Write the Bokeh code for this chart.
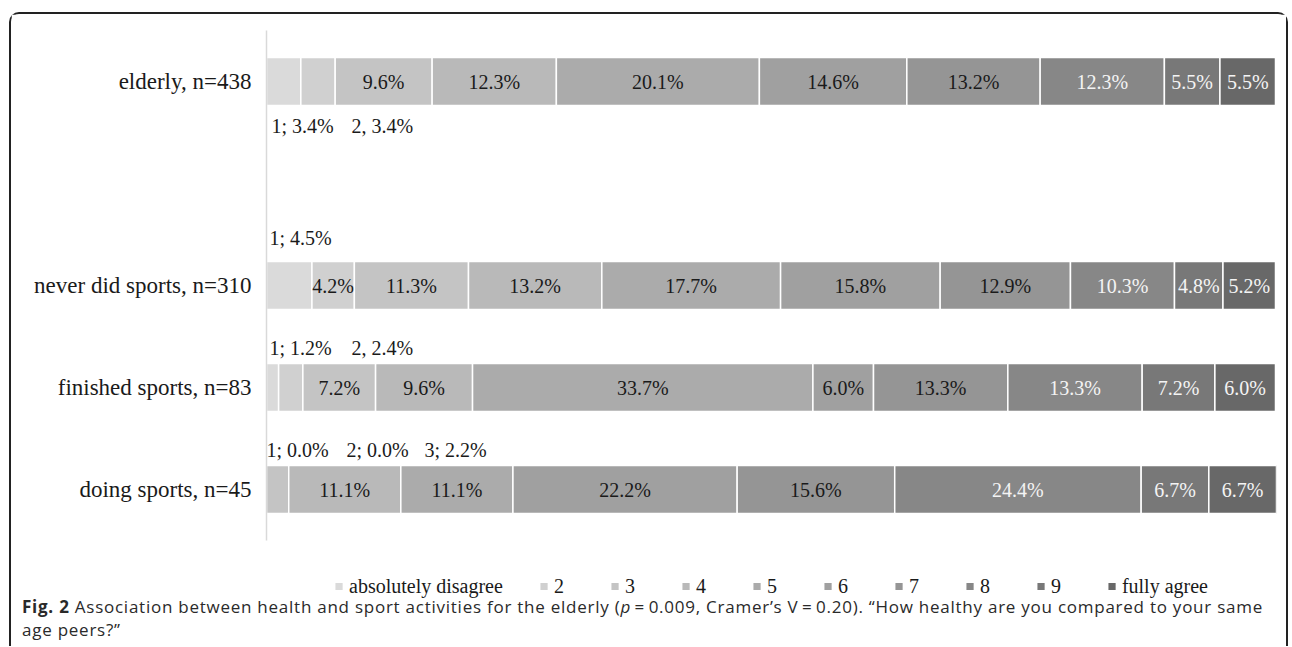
from bokeh.plotting import figure
from bokeh.models import ColumnDataSource, Legend, LegendItem, Div, Range1d, FactorRange
from bokeh.layouts import column
from bokeh.core.properties import value
from bokeh.embed import file_html
from bokeh.resources import INLINE

# ---- data ----
groups = ["elderly, n=438", "never did sports, n=310", "finished sports, n=83", "doing sports, n=45"]
levels = ["absolutely disagree", "2", "3", "4", "5", "6", "7", "8", "9", "fully agree"]
elderly = [3.4, 3.4, 9.6, 12.3, 20.1, 14.6, 13.2, 12.3, 5.5, 5.5]
never_did = [4.5, 4.2, 11.3, 13.2, 17.7, 15.8, 12.9, 10.3, 4.8, 5.2]
finished = [1.2, 2.4, 7.2, 9.6, 33.7, 6.0, 13.3, 13.3, 7.2, 6.0]
doing = [0.0, 0.0, 2.2, 11.1, 11.1, 22.2, 15.6, 24.4, 6.7, 6.7]
# small segments labelled outside the bar (level index)
outside_idx = [[0, 1], [0], [0, 1], [0, 1, 2]]
outside_text = [["1; 3.4%", "2, 3.4%"], ["1; 4.5%"], ["1; 1.2%", "2, 2.4%"],
                ["1; 0.0%", "2; 0.0%", "3; 2.2%"]]
caption_line1 = ("<b>Fig. 2</b> Association between health and sport activities for the elderly "
                 "(<i>p</i>&thinsp;=&thinsp;0.009, Cramer’s V&thinsp;=&thinsp;0.20). "
                 "“How healthy are you compared to your same")
caption_line2 = "age peers?”"

# ---- styling ----
colors = ["#dadada", "#d0d0d0", "#c4c4c4", "#b9b9b9", "#ababab",
          "#a0a0a0", "#959595", "#878787", "#787878", "#686868"]
white_text = [False] * 7 + [True] * 3
outside_xoff = [[5, 85], [3], [3, 85], [0, 80, 158]]
outside_yoff = [44, -48, -40, -40]
SERIF = "Liberation Serif"
W = 1275

series = [elderly, never_did, finished, doing]
blank = " "
factors = [groups[3], groups[2], groups[1], blank, groups[0]]

data = {"cat": groups}
for j, lev in enumerate(levels):
    data[lev] = [s[j] for s in series]
source = ColumnDataSource(data)

p = figure(width=W, height=550, y_range=FactorRange(factors=factors, range_padding=0),
           x_range=Range1d(0, 100), output_backend="svg", toolbar_location=None,
           min_border_left=255, min_border_right=10, min_border_top=16, min_border_bottom=24)

p.hbar_stack(levels, y="cat", height=0.47, color=colors, source=source,
             line_color="white", line_width=1.5)

# inline labels
lx, ly, lt, lc = [], [], [], []
ox, oy, ot, oxo, oyo = [], [], [], [], []
for i, (g, s) in enumerate(zip(groups, series)):
    cum = 0.0
    for j, v in enumerate(s):
        if j not in outside_idx[i]:
            lx.append(cum + v / 2)
            ly.append(g)
            lt.append(f"{v:.1f}%")
            lc.append("#f4f4f4" if white_text[j] else "#1a1a1a")
        cum += v
    for k, txt in enumerate(outside_text[i]):
        ox.append(0)
        oy.append(g)
        ot.append(txt)
        oxo.append(outside_xoff[i][k])
        oyo.append(outside_yoff[i])

p.text(x="x", y="y", text="t", text_color="c", source=ColumnDataSource(dict(x=lx, y=ly, t=lt, c=lc)),
       text_align="center", text_baseline="middle", text_font=value(SERIF), text_font_size="20px")
p.text(x="x", y="y", text="t", x_offset="xo", y_offset="yo",
       source=ColumnDataSource(dict(x=ox, y=oy, t=ot, xo=oxo, yo=oyo)),
       text_align="left", text_baseline="middle", text_font=value(SERIF), text_font_size="20px",
       text_color="#1a1a1a")

p.xaxis.visible = False
p.xgrid.visible = False
p.ygrid.visible = False
p.outline_line_color = None
yax = p.yaxis[0]
yax.axis_line_color = "#d9d9d9"
yax.axis_line_width = 1.5
yax.major_tick_line_color = None
yax.minor_tick_line_color = None
yax.major_tick_out = 0
yax.major_label_standoff = 15
yax.major_label_text_font = SERIF
yax.major_label_text_font_size = "23px"
yax.major_label_text_color = "#1a1a1a"

# legend strip (its own figure; zero-height stack only supplies the legend swatches)
p2 = figure(width=W, height=36, y_range=FactorRange(factors=groups), x_range=Range1d(0, 100),
            output_backend="svg", toolbar_location=None,
            min_border_left=255, min_border_right=10, min_border_top=8, min_border_bottom=0)
rends2 = p2.hbar_stack(levels, y="cat", height=0.0, color=colors, source=source, line_color=None)
p2.axis.visible = False
p2.grid.visible = False
p2.outline_line_color = None

legend = Legend(items=[LegendItem(label=lev, renderers=[r]) for lev, r in zip(levels, rends2)],
                orientation="horizontal", location="center",
                glyph_width=9, glyph_height=9, label_standoff=6, spacing=36,
                label_text_font=SERIF, label_text_font_size="20px", label_text_color="#1a1a1a",
                border_line_color=None, background_fill_alpha=0, padding=0, margin=0)
p2.add_layout(legend)

cap_style = {"font-family": "Open Sans", "font-size": "17px", "letter-spacing": "0.75px",
             "color": "#2a2a2a", "padding-left": "11px", "line-height": "23px",
             "white-space": "nowrap", "position": "relative", "top": "-5px", "overflow": "visible"}
cap1 = Div(text=caption_line1, width=1262, height=23, margin=0, styles=cap_style)
cap2 = Div(text=caption_line2, width=1262, height=23, margin=0, styles=cap_style)

layout = column(p, p2, cap1, cap2, styles={"border": "2px solid #222", "border-bottom": "none",
                                           "border-radius": "10px 10px 0 0",
                                           "margin-top": "12px", "margin-left": "9px"})

open("out.html", "w").write(file_html(layout, INLINE))
